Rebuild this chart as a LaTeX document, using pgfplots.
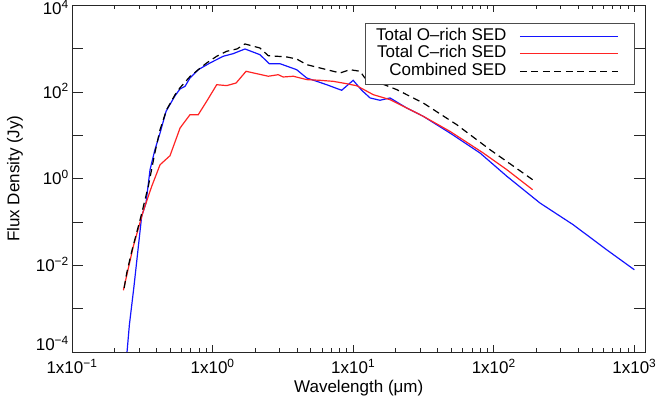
\documentclass[border=0pt]{standalone}
\usepackage{pgfplots}
\pgfplotsset{compat=1.18}
\usepackage{fontspec}
\setmainfont{Liberation Sans}
\definecolor{oblue}{RGB}{20,20,255}
\definecolor{cred}{RGB}{255,35,35}
\begin{document}
\fontsize{17}{20}\selectfont
\begin{tikzpicture}
\begin{axis}[
  scale only axis,
  width=573.5pt, height=346.5pt,
  xmode=log, ymode=log,
  xmin=0.1, xmax=1200, ymin=1e-4, ymax=1e4,
  axis line style={line width=0.9pt, black!85},
  xtick={0.1,1,10,100,1000},
  xticklabels={1x10\textsuperscript{−1},1x10\textsuperscript{0},1x10\textsuperscript{1},1x10\textsuperscript{2},1x10\textsuperscript{3}},
  ytick={1e-4,1e-3,1e-2,1e-1,1,1e1,1e2,1e3,1e4},
  yticklabels={\raisebox{7pt}{10\textsuperscript{−4}},,10\textsuperscript{−2},,10\textsuperscript{0},,10\textsuperscript{2},,\raisebox{-3pt}{10\textsuperscript{4}}},
  yminorticks=false,
  tick align=inside,
  xtick style={line width=0.8pt, black!85, /pgfplots/major tick length=7pt, /pgfplots/minor tick length=3.5pt},
  ytick style={line width=0.8pt, black!85, /pgfplots/major tick length=11.5pt},
  xticklabel style={anchor=base, inner sep=0pt, yshift=-21.5pt},
  yticklabel style={anchor=base east, inner sep=0pt, xshift=-3pt, yshift=-6pt},
  xlabel={Wavelength (μm)},
  ylabel={Flux Density (Jy)},
  xlabel style={at={(axis description cs:0.5,-0.1183)}, anchor=base},
  ylabel style={at={(axis description cs:-0.0994,0.5)}, anchor=center},
]
\addplot[draw=oblue, line width=1.2pt] coordinates {
(0.243,6e-5) (0.256,4.25e-4) (0.276,3.27e-3) (0.313,0.1355) (0.336,0.275) (0.359,1.61)
(0.389,4.68) (0.423,11.35) (0.467,36.1) (0.541,82.6) (0.587,118) (0.637,136) (0.691,212)
(0.791,329) (0.959,470) (1.19,671) (1.40,771) (1.70,989) (2.17,731) (2.53,453) (3.01,453)
(3.96,329) (4.67,212) (6.48,148) (8.28,110) (10.0,187) (11.5,110) (13.2,73.1) (15.5,64.7)
(18.3,73.1) (24.0,43.0) (31.5,27.6) (48.8,11.35) (79.8,3.93) (124,1.135) (213,0.275)
(367,0.0867) (635,0.0229) (1000,0.0079)
};
\addplot[draw=cred, line width=1.2pt] coordinates {
(0.232,2.65e-3) (0.273,0.0275) (0.321,0.1766) (0.369,0.667) (0.423,2.10) (0.498,3.4)
(0.587,14.8) (0.691,30.1) (0.791,30.1) (0.908,61.4) (1.07,148) (1.26,141) (1.47,162)
(1.73,302) (2.06,266) (2.49,232) (2.93,252) (3.18,223) (3.75,232) (4.67,194) (5.80,187)
(7.22,177) (8.99,156) (10.6,140) (13.9,87.1) (18.3,66.8) (24.0,43.0) (31.5,27.6)
(48.8,12.4) (84.1,3.93) (124,1.61) (189,0.557)
};
\addplot[draw=black, line width=1.2pt, dash pattern=on 7pt off 4.5pt] coordinates {
(0.235,3.0e-3) (0.245,6.64e-3) (0.266,0.0210) (0.305,0.113) (0.321,0.22) (0.349,0.667)
(0.389,4.0) (0.423,13.6) (0.471,39.2) (0.541,87.1) (0.587,126) (0.691,229) (0.791,329)
(0.908,470) (1.07,671) (1.26,875) (1.49,989) (1.70,1291) (2.17,1042) (2.49,693) (3.37,647)
(3.96,581) (4.67,430) (5.80,361) (8.05,276) (9.48,329) (11.2,302) (12.1,212) (15.5,162)
(20.4,114) (31.5,56.0) (54.5,17.7) (94,4.68) (189,0.948)
};
% legend box and text
\node[draw=black!70, line width=0.7pt, fill=white, anchor=north east, inner sep=0pt,
      minimum width=269pt, minimum height=60.5pt] at (rel axis cs:0.9817,0.9481) {};
\node[anchor=base east, inner sep=0pt] at (rel axis cs:0.7580,0.8981) {Total O–rich SED};
\node[anchor=base east, inner sep=0pt] at (rel axis cs:0.7580,0.8496) {Total C–rich SED};
\node[anchor=base east, inner sep=0pt] at (rel axis cs:0.7580,0.7980) {Combined SED};
% legend samples
\addplot[draw=oblue, line width=1.4pt, forget plot] coordinates {(153.5,1924) (764.9,1924)};
\addplot[draw=cred, line width=1.4pt, forget plot] coordinates {(153.5,787.8) (764.9,787.8)};
\addplot[draw=black, line width=1.3pt, dash pattern=on 7pt off 4.5pt, forget plot] coordinates {(153.5,304.2) (764.9,304.2)};
\end{axis}
\path[use as bounding box] (-72pt,-53pt) rectangle (585pt,349pt);
\end{tikzpicture}
\end{document}
